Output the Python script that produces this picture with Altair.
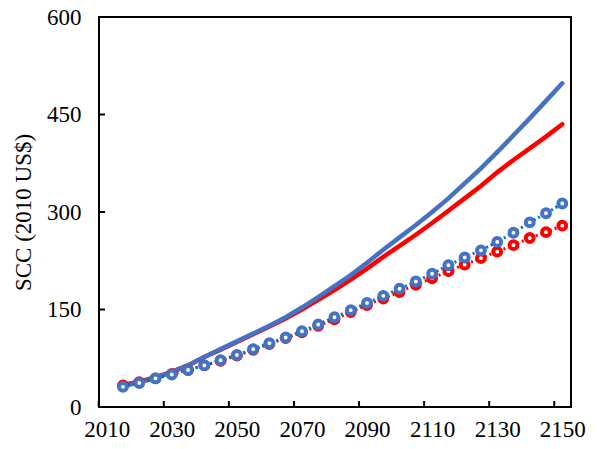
import altair as alt
import pandas as pd

years = list(range(2015, 2151, 5))

blue_solid = [32, 38, 45, 54, 64, 77, 89, 101, 113, 125, 138, 153, 169, 186,
              203, 222, 242, 261, 280, 300, 321, 344, 367, 392, 418, 444, 471, 498]
red_solid = [34, 39, 46, 54, 64, 77, 88, 100, 112, 124, 136, 150, 165, 180,
             196, 213, 231, 248, 265, 283, 302, 321, 340, 361, 380, 398, 416, 435]
blue_circles = [31, 37, 44, 50, 57, 64, 72, 80, 89, 98, 107, 116.5, 127, 138,
                149, 160, 171, 182, 193, 205, 218, 230, 241, 254, 268, 284, 298, 313]
red_circles = [33, 38, 44, 51, 57, 64, 71, 79, 88, 97, 106, 115, 125, 135,
               146, 157, 167, 177, 188, 198, 209, 219, 229, 239, 249, 260, 269, 279]

x_ticks = list(range(2010, 2151, 20))
y_ticks = [0, 150, 300, 450, 600]

FONT = "Liberation Serif"
W, H = 472, 390

df = pd.DataFrame({
    "year": years,
    "blue_solid": blue_solid,
    "red_solid": red_solid,
    "blue_circles": blue_circles,
    "red_circles": red_circles,
})

xscale = alt.Scale(domain=[2007.63, 2152.68], nice=False, zero=False)
yscale = alt.Scale(domain=[0, 600], nice=False)

xaxis = alt.Axis(values=x_ticks, format="d", ticks=False, domain=False, grid=False,
                 labelPadding=11, title=None, labelFlush=False)
yaxis = alt.Axis(values=y_ticks, ticks=False, domain=False, grid=False, labelPadding=18,
                 title="SCC (2010 US$)", titleX=-76, titleY=H / 2,
                 titleAngle=270, titleAlign="center", titleBaseline="middle")

base = alt.Chart(df)

def solid(col, color):
    return base.mark_line(color=color, strokeWidth=4.5, strokeCap="round").encode(
        x=alt.X("year:Q", scale=xscale, axis=xaxis),
        y=alt.Y(f"{col}:Q", scale=yscale, axis=yaxis),
    )

def dotted(col, color):
    return base.mark_line(color=color, strokeWidth=3, strokeDash=[2, 3]).encode(
        x=alt.X("year:Q", scale=xscale),
        y=alt.Y(f"{col}:Q", scale=yscale),
    )

def circles(col, color):
    return base.mark_point(shape="circle", filled=False, fill="white", fillOpacity=1,
                           stroke=color, strokeWidth=4, size=62, opacity=1).encode(
        x=alt.X("year:Q", scale=xscale),
        y=alt.Y(f"{col}:Q", scale=yscale),
    )

xt = pd.DataFrame({"t": x_ticks})
yt = pd.DataFrame({"t": y_ticks})
xtick_layer = alt.Chart(xt).mark_rule(color="black", strokeWidth=2, xOffset=-8).encode(
    x=alt.X("t:Q", scale=xscale), y=alt.value(H - 6), y2=alt.value(H))
ytick_layer = alt.Chart(yt).mark_rule(color="black", strokeWidth=2).encode(
    y=alt.Y("t:Q", scale=yscale), x=alt.value(0), x2=alt.value(6))

chart = alt.layer(
    solid("red_solid", "#FF0000"),
    solid("blue_solid", "#4472C4"),
    dotted("red_circles", "#FF0000"),
    circles("red_circles", "#FF0000"),
    dotted("blue_circles", "#0070C0"),
    circles("blue_circles", "#4472C4"),
    xtick_layer,
    ytick_layer,
).properties(
    width=W, height=H,
    autosize=alt.AutoSizeParams(type="none"),
    padding={"left": 91, "top": 9, "right": 21, "bottom": 34},
).configure_view(stroke="black", strokeWidth=2).configure_axis(
    labelFont=FONT, labelFontSize=23, labelColor="black",
    titleFont=FONT, titleFontSize=23, titleFontWeight="normal", titleColor="black",
)

chart.save("out.html", embed_options={"renderer": "svg", "actions": False})
